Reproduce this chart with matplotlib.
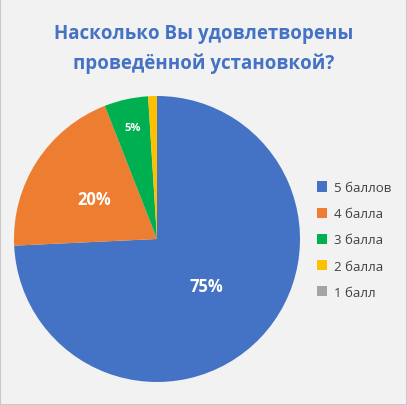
import numpy as np
import matplotlib.pyplot as plt
from matplotlib.patches import Rectangle

title = "Насколько Вы удовлетворены\nпроведённой установкой?"
categories = ["5 баллов", "4 балла", "3 балла", "2 балла", "1 балл"]
values = [75, 20, 5, 1, 0]
pct_labels = ["75%", "20%", "5%", "", ""]
colors = ["#4472C4", "#ED7D31", "#00B050", "#FFC000", "#A5A5A5"]

plt.rcParams['font.family'] = ['Open Sans', 'DejaVu Sans']

fig = plt.figure(figsize=(4.07, 4.06), dpi=100)
fig.patch.set_facecolor("#F2F2F2")
fig.patches.append(Rectangle((0, 0), 1, 1, transform=fig.transFigure,
                             fill=False, edgecolor="#C8C8C8", linewidth=1.5))

W, H = 407, 406
cx, cy, r = 157, 240, 143
ax = fig.add_axes([(cx - r) / W, (H - cy - r) / H, 2 * r / W, 2 * r / H])
ax.set_facecolor("none")

wedges, _ = ax.pie(values, colors=colors, startangle=90, counterclock=False,
                   wedgeprops=dict(linewidth=0))
ax.set_xlim(-1, 1)
ax.set_ylim(-1, 1)
ax.set_aspect("equal")

# distance of each label from the centre
dists = [0.48, 0.52, 0.8]
sizes = [12, 12, 8]
for w, lab, d, s in zip(wedges, pct_labels, dists, sizes):
    ang = np.deg2rad((w.theta1 + w.theta2) / 2)
    ax.text(d * np.cos(ang), d * np.sin(ang), lab, ha="center", va="center",
            color="white", fontsize=s, fontweight="bold")

fig.text(0.5, 1 - 49 / H, title, ha="center", va="center", color="#4472C4",
         fontsize=13.5, fontweight="bold", linespacing=1.65)

leg = fig.legend(wedges, categories, loc="center left",
                 bbox_to_anchor=(305 / W, 1 - 241 / H), frameon=False,
                 fontsize=9.5, handlelength=0.8, handleheight=0.8,
                 labelspacing=1.0, handletextpad=0.5, labelcolor="#404040")

fig.savefig("out.png", dpi=100, facecolor=fig.get_facecolor())
